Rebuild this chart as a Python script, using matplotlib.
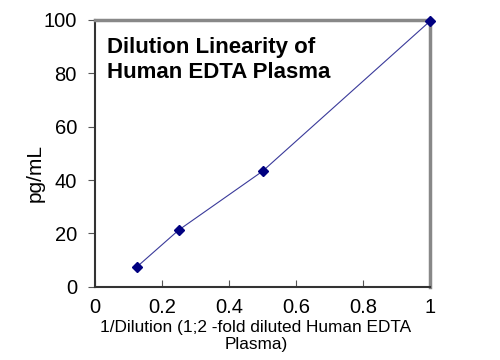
import matplotlib
matplotlib.use("Agg")
from matplotlib import pyplot as plt

# 1/dilution vs measured concentration
dilution = [0.125, 0.25, 0.5, 1.0]
conc = [7.5, 21.3, 43.3, 99.5]
xticks = [0, 0.2, 0.4, 0.6, 0.8, 1]
xticklabels = ['0', '0.2', '0.4', '0.6', '0.8', '1']
yticks = [0, 20, 40, 60, 80, 100]

plt.rcParams['font.family'] = ['Liberation Sans', 'DejaVu Sans']

fig = plt.figure(figsize=(5, 3.6), dpi=100)
ax = fig.add_axes([0.19, 0.203, 0.67, 0.742])

ax.plot(dilution, conc, color='#3a3a9a', linewidth=0.8, marker='D',
        markersize=5, markerfacecolor='#000080', markeredgecolor='#000080',
        clip_on=False, zorder=3)

ax.set_xlim(0, 1)
ax.set_ylim(0, 100)
ax.set_xticks(xticks)
ax.set_xticklabels(xticklabels)
ax.set_yticks(yticks)
ax.tick_params(axis='x', direction='in', length=5, labelsize=14.5, pad=8,
               color='#555555')
ax.tick_params(axis='y', direction='out', length=5, labelsize=14.5, pad=8,
               color='#555555')

for side in ['left', 'bottom']:
    ax.spines[side].set_color('#333333')
    ax.spines[side].set_linewidth(1.5)
for side in ['top', 'right']:
    ax.spines[side].set_color('#888888')
    ax.spines[side].set_linewidth(2.5)

ax.text(0.035, 0.935, "Dilution Linearity of\nHuman EDTA Plasma",
        transform=ax.transAxes, fontsize=16, fontweight='bold',
        va='top', ha='left', linespacing=1.25)

fig.text(35 / 500, 1 - 173 / 360, "pg/mL", rotation=90, fontsize=15,
         ha='center', va='center')
fig.text(256 / 500, 1 - 320 / 360,
         "1/Dilution (1;2 -fold diluted Human EDTA\nPlasma)",
         ha='center', va='top', fontsize=12.4, linespacing=1.2,
         multialignment='center')

plt.savefig("out.png")
plt.close()
